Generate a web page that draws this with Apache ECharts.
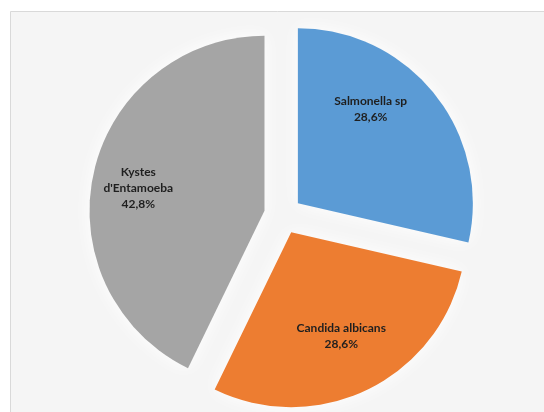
<!DOCTYPE html>
<html>
<head>
<meta charset="utf-8">
<script src="https://cdn.jsdelivr.net/npm/echarts@6/dist/echarts.min.js"></script>
<style>
html,body{margin:0;padding:0;background:#ffffff;}
#chart{width:544px;height:412px;}
</style>
</head>
<body>
<div id="chart"></div>
<script>
// Data
var categories = ["Salmonella sp", "Candida albicans", "Kystes\nd'Entamoeba"];
var values = [28.6, 28.6, 42.8];
var percentLabels = ["28,6%", "28,6%", "42,8%"];

// Styling (not data)
var colors = ["#5B9BD5", "#ED7D31", "#A5A5A5"];
var labelShift = [[2, -38], [11, 22], [-38, -2]];

var chart = echarts.init(document.getElementById('chart'), null, {renderer: 'canvas'});
chart.setOption({
  animation: false,
  backgroundColor: '#ffffff',
  graphic: [{
    type: 'rect',
    z: -10,
    silent: true,
    shape: {x: 10.5, y: 11.5, width: 600, height: 500},
    style: {fill: '#f5f5f5', stroke: '#d9d9d9', lineWidth: 1}
  }],
  series: [{
    type: 'pie',
    center: [283, 215],
    radius: [0, 175],
    startAngle: 90,
    clockwise: true,
    selectedMode: 'multiple',
    selectedOffset: 19,
    avoidLabelOverlap: false,
    emphasis: {disabled: true},
    select: {itemStyle: {}},
    itemStyle: {
      shadowColor: 'rgba(255,255,255,1)',
      shadowBlur: 18,
      borderWidth: 0
    },
    label: {
      show: true,
      position: 'inside',
      fontFamily: 'Lato',
      fontWeight: 'bold',
      fontSize: 12,
      lineHeight: 16,
      color: '#1f1f1f',
      align: 'center',
      formatter: function (p) {
        return categories[p.dataIndex] + '\n' + percentLabels[p.dataIndex];
      }
    },
    labelLine: {show: false},
    labelLayout: function (p) {
      var s = labelShift[p.dataIndex];
      return {dx: s[0], dy: s[1]};
    },
    data: values.map(function (v, i) {
      return {value: v, name: categories[i], selected: true, itemStyle: {color: colors[i]}};
    })
  }]
});
</script>
</body>
</html>
